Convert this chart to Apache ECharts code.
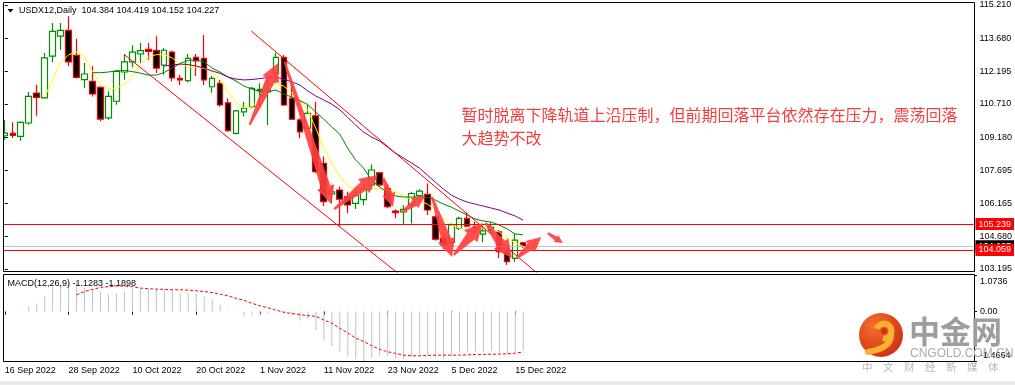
<!DOCTYPE html>
<html><head><meta charset="utf-8">
<script src="https://cdn.jsdelivr.net/npm/echarts@6/dist/echarts.min.js"></script>
<style>html,body{margin:0;padding:0;background:#fff;}#c{width:1015px;height:385px;}</style>
</head><body><div id="c"></div>
<script>
// ---------------- DATA ----------------
const dates = ['16 Sep 2022','19 Sep 2022','20 Sep 2022','21 Sep 2022','22 Sep 2022','23 Sep 2022','26 Sep 2022','27 Sep 2022','28 Sep 2022','29 Sep 2022',
'30 Sep 2022','3 Oct 2022','4 Oct 2022','5 Oct 2022','6 Oct 2022','7 Oct 2022','10 Oct 2022','11 Oct 2022','12 Oct 2022','13 Oct 2022',
'14 Oct 2022','17 Oct 2022','18 Oct 2022','19 Oct 2022','20 Oct 2022','21 Oct 2022','24 Oct 2022','25 Oct 2022','26 Oct 2022','27 Oct 2022',
'28 Oct 2022','31 Oct 2022','1 Nov 2022','2 Nov 2022','3 Nov 2022','4 Nov 2022','7 Nov 2022','8 Nov 2022','9 Nov 2022','10 Nov 2022',
'11 Nov 2022','14 Nov 2022','15 Nov 2022','16 Nov 2022','17 Nov 2022','18 Nov 2022','21 Nov 2022','22 Nov 2022','23 Nov 2022','24 Nov 2022',
'25 Nov 2022','28 Nov 2022','29 Nov 2022','30 Nov 2022','1 Dec 2022','2 Dec 2022','5 Dec 2022','6 Dec 2022','7 Dec 2022','8 Dec 2022',
'9 Dec 2022','12 Dec 2022','13 Dec 2022','14 Dec 2022','15 Dec 2022','16 Dec 2022'];

const opens = [109.26,109.37,109.23,109.84,111.20,110.98,112.88,113.79,114.06,112.92,
 111.81,111.74,111.46,110.07,110.83,112.16,112.62,112.98,113.19,113.15,
 112.47,113.07,111.87,111.77,112.83,112.78,111.49,111.65,110.76,109.37,
 110.35,110.58,111.31,111.26,112.10,112.83,110.96,109.98,109.60,110.16,
 108.00,106.61,106.79,106.48,106.18,106.35,107.02,107.57,106.85,105.83,
 105.79,106.11,106.53,106.59,105.57,104.60,104.40,105.05,105.50,105.10,
 104.78,104.95,104.89,103.98,103.68,104.384];
const closes = [109.38,109.28,109.87,111.05,111.01,112.80,114.01,114.06,112.62,111.92,
 112.07,111.16,110.02,111.05,112.19,112.62,113.07,113.13,113.10,112.34,
 113.15,111.89,111.80,112.78,112.67,111.80,111.87,110.66,109.49,110.39,
 110.51,111.42,111.37,111.34,112.83,110.66,110.01,109.44,110.28,107.62,
 106.26,106.71,106.37,106.11,106.55,106.85,107.70,107.02,106.03,105.76,
 105.91,106.63,106.74,105.88,104.55,104.30,105.20,105.50,105.15,105.00,
 104.93,105.10,103.98,103.53,104.51,104.227];
const lows = [109.08,109.16,109.03,109.76,110.17,110.94,112.60,113.17,112.42,111.86,
 111.43,111.05,109.92,109.99,110.67,111.81,112.37,112.57,112.72,112.11,
 112.04,111.74,111.57,111.69,111.98,111.57,111.22,110.58,109.44,109.32,
 110.13,110.51,110.58,109.75,111.65,110.61,109.98,109.14,109.55,107.55,
 106.06,106.18,105.15,105.73,105.93,106.10,106.80,106.94,105.96,105.50,
 105.24,105.27,106.48,105.65,104.48,104.10,104.29,104.97,105.09,104.85,
 104.41,104.80,103.68,103.38,103.52,104.152];
const highs = [109.96,109.87,109.92,111.25,111.58,113.03,114.39,114.39,114.70,113.68,
 112.57,112.42,111.51,111.28,112.26,112.98,113.38,113.48,113.48,113.79,
 113.25,113.13,112.02,112.98,112.98,113.84,111.98,111.80,110.96,110.43,
 110.81,111.49,111.65,111.80,113.04,112.93,111.65,110.05,110.66,110.81,
 108.31,106.94,106.94,106.71,106.94,107.05,107.95,107.62,107.05,105.91,
 106.10,106.71,106.82,107.09,105.65,104.80,105.27,105.57,105.77,105.35,
 105.18,105.30,104.97,104.21,104.82,104.419];

const maYellow = [null,null,null,null,null,
 111.02,111.81,112.57,112.95,113.07,112.87,112.19,111.58,111.40,111.43,111.58,111.96,112.49,112.83,112.95,
 112.95,112.80,112.53,112.40,112.37,112.33,112.17,111.80,111.25,110.80,110.54,110.57,110.98,111.34,111.61,
 111.52,111.20,110.89,110.43,109.61,108.70,108.02,107.43,106.97,106.83,106.79,106.86,106.87,106.79,106.70,
 106.52,106.38,106.29,106.15,105.88,105.52,105.20,105.06,104.99,105.01,105.06,105.01,104.88,104.61,104.38,104.24];
const maGreen = [null,null,null,null,null,null,null,null,null,null,null,
 112.13,112.13,112.16,112.21,112.23,112.18,112.11,112.02,112.02,112.14,112.34,112.55,112.69,112.71,112.62,
 112.34,112.16,111.93,111.75,111.52,111.39,111.27,111.27,111.34,111.16,111.02,110.86,110.68,110.34,110.02,
 109.66,109.34,108.70,108.16,107.79,107.24,106.92,106.70,106.52,106.47,106.47,106.47,106.47,106.33,106.15,
 106.01,105.83,105.65,105.47,105.38,105.33,105.20,105.02,104.79,104.75];
const maPurple = [null,null,null,null,null,null,null,null,null,null,null,null,null,null,null,null,null,null,null,null,
 112.43,112.48,112.52,112.50,112.43,112.34,112.21,112.10,111.93,111.84,111.80,111.82,111.86,111.91,111.92,
 111.84,111.71,111.57,111.30,111.07,110.89,110.70,110.45,110.10,109.75,109.43,109.20,109.02,108.75,108.47,
 108.25,108.02,107.79,107.47,107.15,106.84,106.56,106.38,106.24,106.15,106.06,105.97,105.88,105.74,105.61,105.42];

const macdMain = [0,0,0.02,0.15,0.24,0.45,0.72,0.80,0.84,0.86,
 0.70,0.65,0.58,0.51,0.54,0.58,0.68,0.68,0.66,0.66,
 0.66,0.63,0.53,0.53,0.53,0.44,0.34,0.20,0.02,-0.01,
 -0.14,-0.11,-0.08,-0.05,0.01,-0.05,-0.10,-0.26,-0.22,-0.55,
 -0.85,-1.02,-1.17,-1.32,-1.40,-1.4664,-1.36,-1.30,-1.32,-1.38,
 -1.38,-1.33,-1.26,-1.27,-1.35,-1.38,-1.30,-1.20,-1.18,-1.18,
 -1.20,-1.16,-1.22,-1.26,-1.19,-1.1283];
const macdSignal = [null,null,null,null,null,null,null,null,null,
 0.49,0.59,0.65,0.71,0.73,0.75,0.75,0.73,0.69,0.67,0.66,0.65,0.64,0.64,0.63,0.61,0.59,0.56,0.51,0.46,0.39,
 0.33,0.24,0.17,0.11,0.04,-0.02,-0.06,-0.09,-0.12,-0.14,-0.25,-0.34,-0.49,-0.63,-0.78,-0.88,-1.0,-1.11,-1.18,-1.23,
 -1.28,-1.30,-1.30,-1.29,-1.28,-1.28,-1.28,-1.28,-1.27,-1.26,-1.26,-1.25,-1.25,-1.24,-1.22,-1.1898];

const priceTicks = [115.210,113.680,112.195,110.710,109.180,107.695,106.165,104.680,103.195];
const macdTicks = [1.0736, 0, -1.4664];
const levelRed = [105.239, 104.059];
const bidPrice = 104.227;
// trend lines: [barIndex, price] pairs
const upperChannel = [[30.9,114.03],[68,102.63]];
const lowerChannel = [[15,112.95],[51,102.51]];
// annotation arrows: [fromIndex, fromPrice, toIndex, toPrice]
const arrows = [[30.7,109.75,34.3,112.57],[35.1,112.62,40.96,106.15],[41.3,105.92,46.8,107.47],
 [47.5,107.33,48.7,106.02],[49.8,105.79,52.7,106.52],[53.6,106.47,56.1,103.74],[56.3,103.83,59.96,105.29],
 [60.3,105.29,63.6,103.69],[64.2,103.69,67.3,104.65],[68.1,104.83,70.0,104.38]];
const noteLines = ['暂时脱离下降轨道上沿压制，但前期回落平台依然存在压力，震荡回落','大趋势不改'];
const symbolName = 'USDX12,Daily';

// ---------------- CHART ----------------
const FONT = '"Liberation Sans", Arial, sans-serif';
const CJK = '"Noto Sans CJK SC", sans-serif';
const N = 122;
const cats = dates.concat(new Array(N - dates.length).fill(''));
const candleData = opens.map((o, i) => [o, closes[i], lows[i], highs[i]]);
const GL = 0.8, GR = 974;
const showIdx = (i, v) => v !== '' && i % 8 === 0;

const chart = echarts.init(document.getElementById('c'), null, {renderer: 'canvas', width: 1015, height: 385});

const option = {
  animation: false,
  backgroundColor: '#ffffff',
  grid: [
    {left: GL, width: GR - GL, top: 2, height: 270},
    {left: GL, width: GR - GL, top: 275, height: 86.5}
  ],
  xAxis: [
    {type: 'category', gridIndex: 0, data: cats, boundaryGap: true, show: false},
    {type: 'category', gridIndex: 1, data: cats, boundaryGap: true,
      axisLine: {show: false},
      axisTick: {show: true, length: 3, alignWithLabel: true, interval: showIdx, lineStyle: {color: '#000'}},
      axisLabel: {interval: showIdx, align: 'left', margin: 5, color: '#000', fontSize: 9, fontFamily: FONT},
      splitLine: {show: false}},
    {type: 'value', gridIndex: 0, min: -0.5, max: N - 0.5, show: false}
  ],
  yAxis: [
    {type: 'value', gridIndex: 0, position: 'right', min: 103.058, max: 115.347,
      axisLine: {show: false},
      axisTick: {show: true, length: 3, customValues: priceTicks, lineStyle: {color: '#000'}},
      axisLabel: {customValues: priceTicks, formatter: v => v.toFixed(3), margin: 6, color: '#000', fontSize: 9, fontFamily: FONT,
        showMinLabel: true, showMaxLabel: true},
      splitLine: {show: false}},
    {type: 'value', gridIndex: 1, position: 'right', min: -1.4664, max: 1.0736,
      axisLine: {show: false},
      axisTick: {show: true, length: 3, customValues: macdTicks, lineStyle: {color: '#000'}},
      axisLabel: {customValues: macdTicks, margin: 6, color: '#000', fontSize: 9, fontFamily: FONT,
        showMinLabel: true, showMaxLabel: true,
        formatter: v => v === 0 ? '{m|0.00}' : (v > 0 ? '{t|' + v.toFixed(4) + '}' : '{b|' + v.toFixed(4) + '}'),
        rich: {
          t: {padding: [14, 0, 0, 0], color: '#000', fontSize: 9, fontFamily: FONT},
          b: {padding: [0, 0, 12, 0], color: '#000', fontSize: 9, fontFamily: FONT},
          m: {color: '#000', fontSize: 9, fontFamily: FONT}
        }},
      splitLine: {show: false}}
  ],
  series: [
    {type: 'candlestick', xAxisIndex: 0, yAxisIndex: 0, data: candleData, barWidth: 6, z: 2,
      itemStyle: {color: '#ffffff', color0: '#000000', borderColor: '#009000', borderColor0: '#ff0000', borderWidth: 1.2},
      markLine: {symbol: ['none', 'none'], silent: true, animation: false,
        label: {show: true, position: 'end', distance: 2, padding: [2, 3, 1, 3], color: '#fff', fontSize: 9, fontFamily: FONT},
        data: [
          {yAxis: bidPrice, lineStyle: {color: '#c0c0c0', width: 1, type: 'solid'},
            label: {formatter: bidPrice.toFixed(3), backgroundColor: '#000'}},
          {yAxis: levelRed[0], lineStyle: {color: '#ff0000', width: 1, type: 'solid'},
            label: {formatter: levelRed[0].toFixed(3), backgroundColor: '#ff0000'}},
          {yAxis: levelRed[1], lineStyle: {color: '#ff0000', width: 1, type: 'solid'},
            label: {formatter: levelRed[1].toFixed(3), backgroundColor: '#ff0000'}}
        ]}},
    {type: 'line', xAxisIndex: 0, yAxisIndex: 0, data: maYellow, showSymbol: false, symbol: 'none', z: 3,
      lineStyle: {color: '#ffff00', width: 1}},
    {type: 'line', xAxisIndex: 0, yAxisIndex: 0, data: maGreen, showSymbol: false, symbol: 'none', z: 3,
      lineStyle: {color: '#008000', width: 1}},
    {type: 'line', xAxisIndex: 0, yAxisIndex: 0, data: maPurple, showSymbol: false, symbol: 'none', z: 3,
      lineStyle: {color: '#800080', width: 1}},
    {type: 'line', xAxisIndex: 2, yAxisIndex: 0, data: upperChannel, showSymbol: false, symbol: 'none', z: 4,
      lineStyle: {color: '#ff0000', width: 1}},
    {type: 'line', xAxisIndex: 2, yAxisIndex: 0, data: lowerChannel, showSymbol: false, symbol: 'none', z: 4,
      lineStyle: {color: '#ff0000', width: 1}},
    {type: 'bar', xAxisIndex: 1, yAxisIndex: 1, data: macdMain, barWidth: 1, itemStyle: {color: '#c0c0c0'}, z: 2},
    {type: 'line', xAxisIndex: 1, yAxisIndex: 1, data: macdSignal, showSymbol: false, symbol: 'none', z: 3,
      lineStyle: {color: '#ff0000', width: 1, type: [3, 2]}}
  ]
};
chart.setOption(option);

// ---------------- GRAPHICS ----------------
const last = opens.length - 1;
const header = symbolName + '  ' + [opens[last], highs[last], lows[last], closes[last]].map(v => v.toFixed(3)).join(' ');
const macdHeader = 'MACD(12,26,9) ' + macdMain[last].toFixed(4) + ' ' + macdSignal[last].toFixed(4);

const graphics = [
  {type: 'rect', shape: {x: 0, y: 381, width: 1015, height: 4}, style: {fill: '#ececec'}, z: 1, silent: true},
  {type: 'rect', shape: {x: 0, y: 0, width: 3, height: 366}, style: {fill: '#ffffff'}, z: 90, silent: true},
  {type: 'rect', shape: {x: 3.5, y: 2.5, width: 971, height: 269}, style: {fill: 'transparent', stroke: '#000', lineWidth: 1}, z: 95, silent: true},
  {type: 'rect', shape: {x: 3.5, y: 274.5, width: 971, height: 87}, style: {fill: 'transparent', stroke: '#000', lineWidth: 1}, z: 95, silent: true},
  {type: 'polygon', shape: {points: [[7.5, 9], [13.5, 9], [10.5, 12.5]]}, style: {fill: '#000'}, z: 96, silent: true},
  {type: 'text', x: 19, y: 11, style: {text: header, fill: '#000', fontSize: 9, fontFamily: FONT, verticalAlign: 'middle'}, z: 96, silent: true},
  {type: 'text', x: 7.5, y: 283.5, style: {text: macdHeader, fill: '#000', fontSize: 9, fontFamily: FONT, verticalAlign: 'middle'}, z: 96, silent: true},
  {type: 'text', x: 461.5, y: 115, style: {text: noteLines[0], fill: '#f43f3f', fontSize: 16, fontFamily: CJK, verticalAlign: 'middle'}, z: 96, silent: true},
  {type: 'text', x: 461.5, y: 138, style: {text: noteLines[1], fill: '#f43f3f', fontSize: 16, fontFamily: CJK, verticalAlign: 'middle'}, z: 96, silent: true},
  // watermark
  {type: 'circle', shape: {cx: 881, cy: 335, r: 22}, style: {fill: new echarts.graphic.RadialGradient(0.35, 0.3, 0.8, [{offset: 0, color: '#f5702a'}, {offset: 1, color: '#cc2c12'}])}, z: 97, silent: true},
  {type: 'arc', shape: {cx: 884, cy: 331, r: 7.5, startAngle: -Math.PI * 0.9, endAngle: Math.PI * 0.55}, style: {stroke: '#f8b230', lineWidth: 6, fill: null}, z: 98, silent: true},
  {type: 'bezierCurve', shape: {x1: 891, y1: 334, cpx1: 892, cpy1: 348, x2: 868, y2: 352}, style: {stroke: '#f8b230', lineWidth: 6, fill: null, lineCap: 'round'}, z: 98, silent: true},
  {type: 'circle', shape: {cx: 884, cy: 331, r: 3}, style: {fill: '#cc3415'}, z: 99, silent: true},
  {type: 'text', x: 909, y: 331, style: {text: '中金网', fill: '#9d9d9d', fontSize: 31, fontWeight: 'bold', fontFamily: CJK, verticalAlign: 'middle'}, z: 97, silent: true},
  {type: 'text', x: 910, y: 353.5, style: {text: 'CNGOLD.COM.CN', fill: '#aaaaaa', fontSize: 12, fontFamily: FONT, verticalAlign: 'middle'}, z: 97, silent: true},
  {type: 'text', x: 862, y: 367, style: {text: ['中','文','财','经','新','媒','体'].join('\u2003'), fill: '#b8b8b8', fontSize: 10.5, fontFamily: CJK, verticalAlign: 'middle'}, z: 97, silent: true}
];

arrows.forEach(a => {
  const p0 = chart.convertToPixel({xAxisIndex: 2, yAxisIndex: 0}, [a[0], a[1]]);
  const p1 = chart.convertToPixel({xAxisIndex: 2, yAxisIndex: 0}, [a[2], a[3]]);
  const dx = p1[0] - p0[0], dy = p1[1] - p0[1];
  const L = Math.sqrt(dx * dx + dy * dy);
  const ux = dx / L, uy = dy / L, nx = -uy, ny = ux;
  const hl = Math.min(18, L * 0.45), hw = hl * 0.5, sw = hw * 0.55, tw = 1;
  const bx = p1[0] - ux * hl, by = p1[1] - uy * hl;
  const pts = [
    [p0[0] + nx * tw, p0[1] + ny * tw],
    [bx + nx * sw, by + ny * sw],
    [bx + nx * hw, by + ny * hw],
    [p1[0], p1[1]],
    [bx - nx * hw, by - ny * hw],
    [bx - nx * sw, by - ny * sw],
    [p0[0] - nx * tw, p0[1] - ny * tw]
  ];
  graphics.push({type: 'polygon', shape: {points: pts}, style: {fill: 'rgba(255,64,64,0.92)'}, z: 92, silent: true});
});

chart.setOption({graphic: graphics});
</script></body></html>
